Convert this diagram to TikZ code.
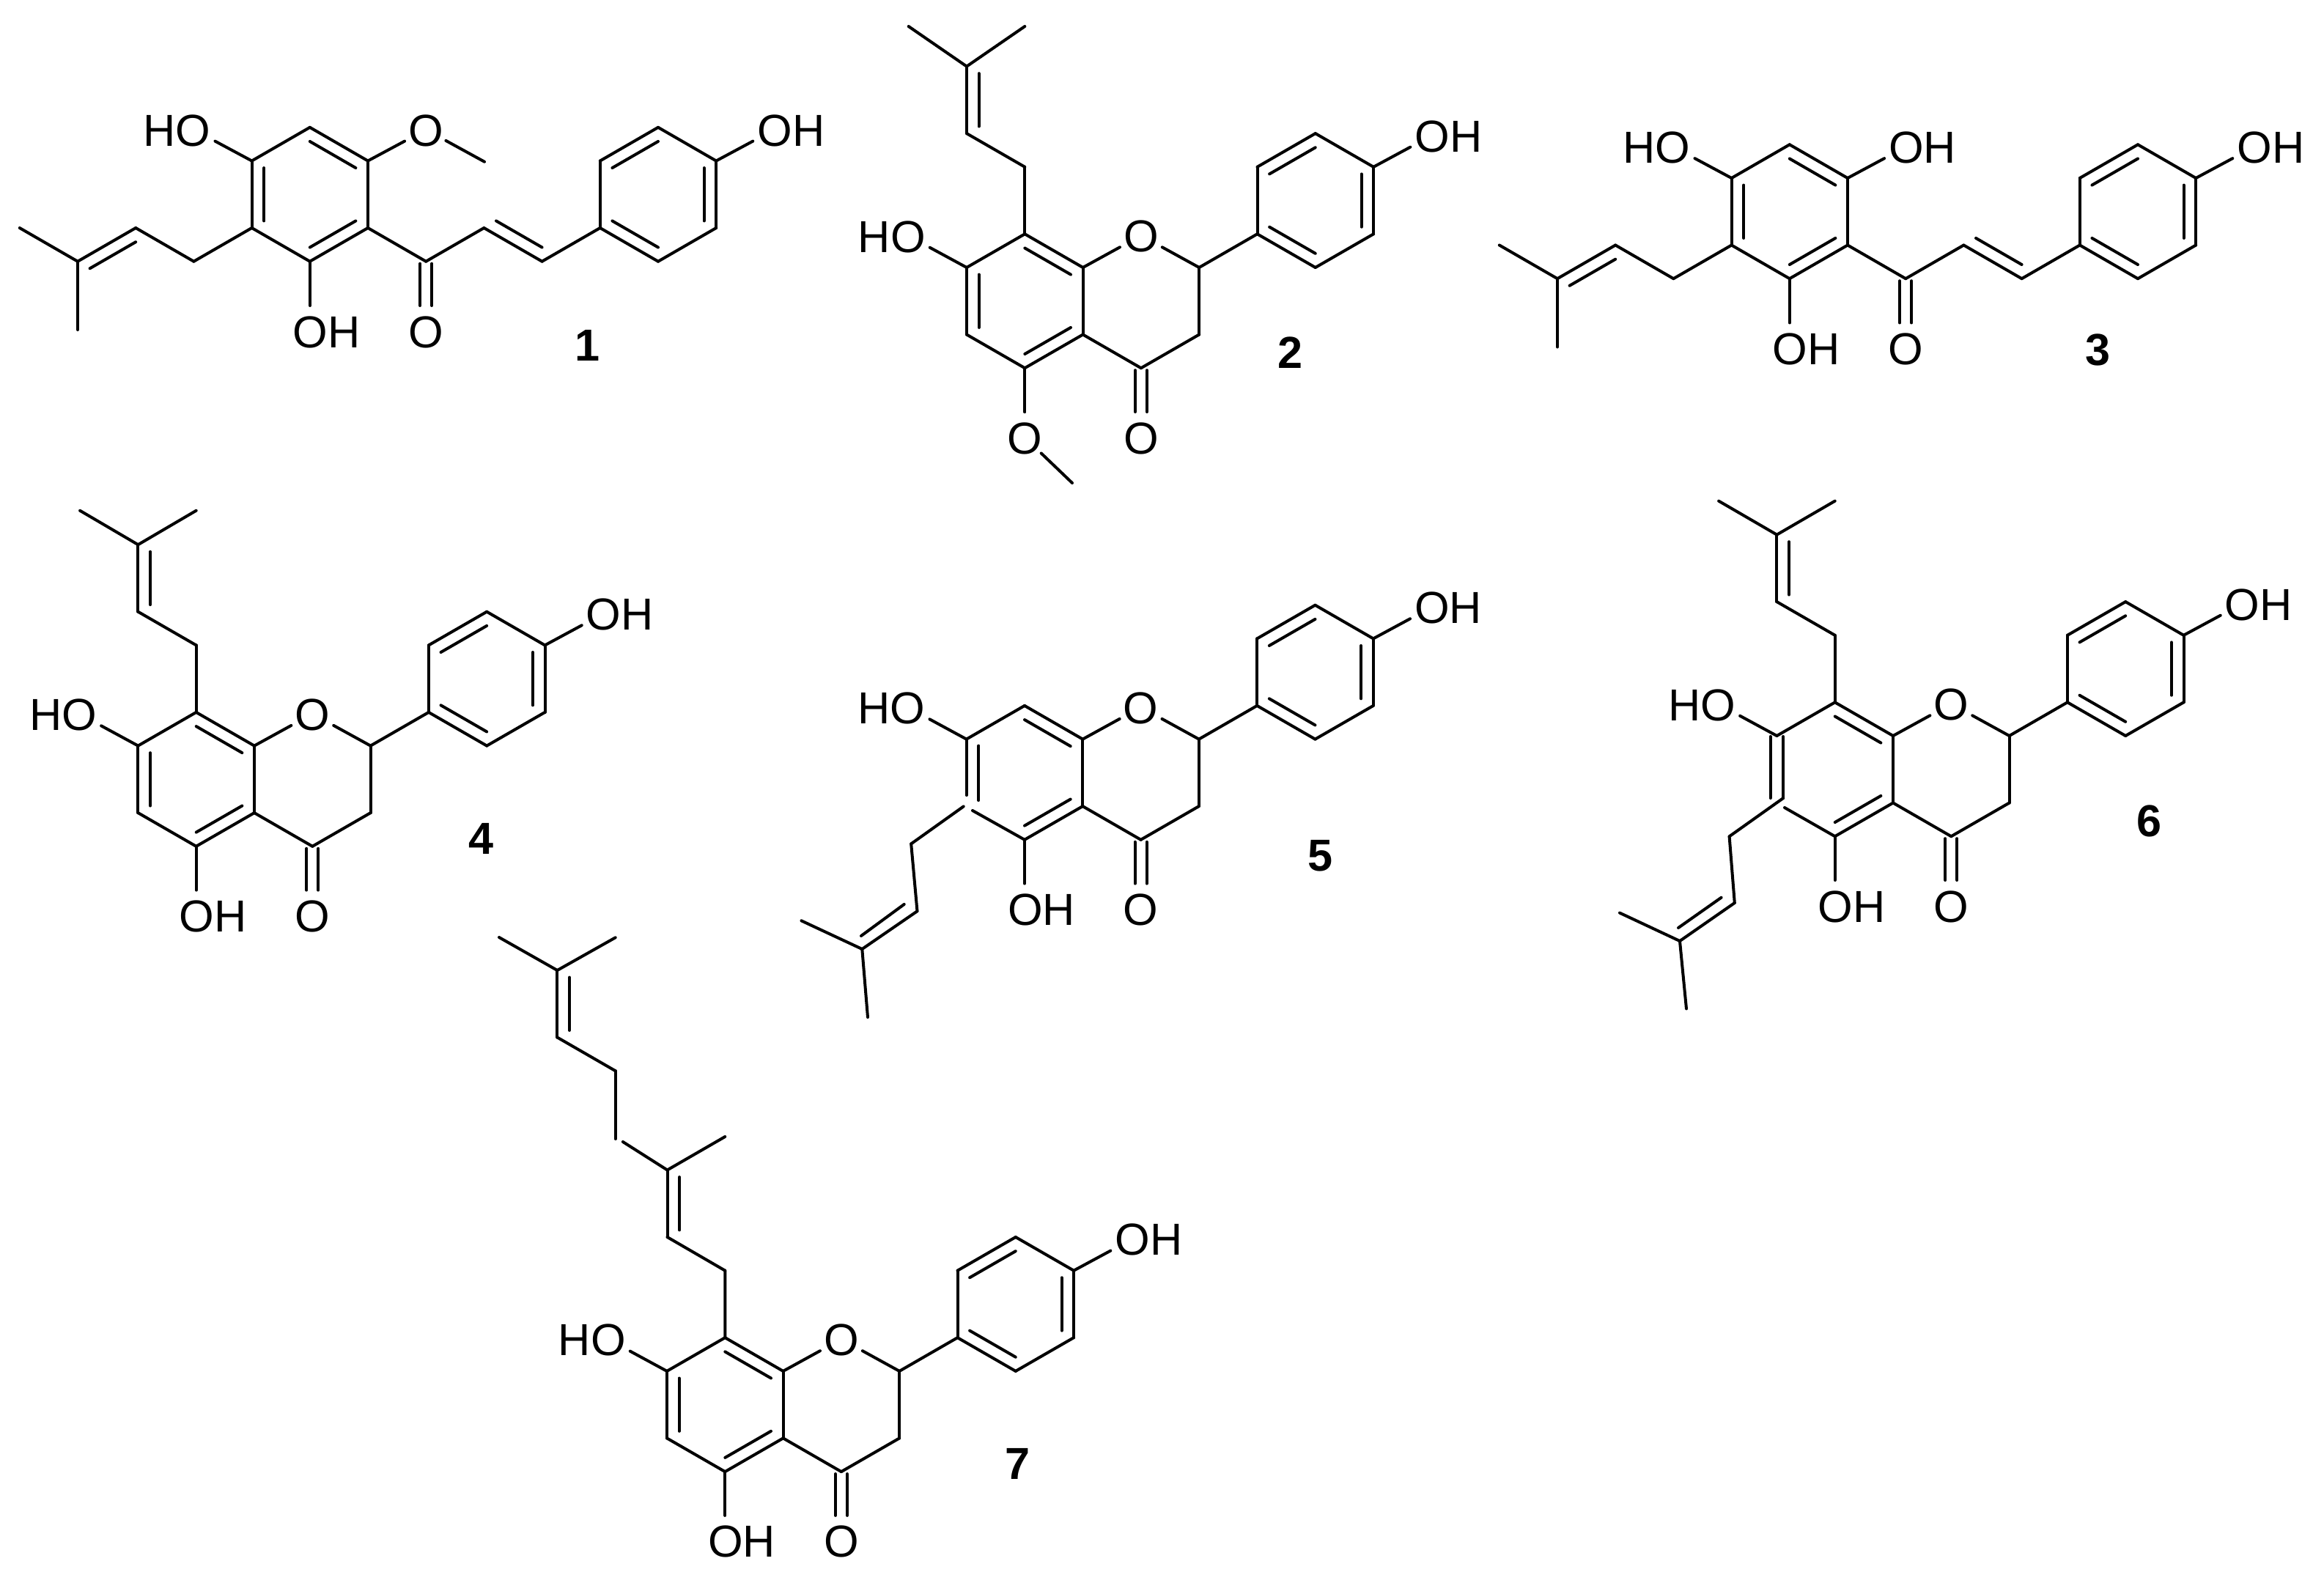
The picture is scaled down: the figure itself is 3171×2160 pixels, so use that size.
\documentclass[tikz,border=0pt]{standalone}
\usepackage{fontspec}
\setmainfont{Liberation Sans}
\usetikzlibrary{calc}
\newcommand\lab{\fontsize{17.4}{20}\selectfont}
\newcommand\numlab{\fontsize{17.4}{20}\selectfont\bfseries}
\tikzset{
  bnd/.style={line width=0.04cm,line cap=round,black},
  tolab/.style={bnd,shorten >=0.33cm},
  frlab/.style={bnd,shorten <=0.31cm},
  tolabv/.style={bnd,shorten >=0.35cm},
  txtO/.style={font=\lab,inner sep=0pt,anchor=base,yshift=-0.22cm},
  txtOH/.style={font=\lab,inner sep=0pt,anchor=base west,xshift=-0.237cm,yshift=-0.22cm},
  txtHO/.style={font=\lab,inner sep=0pt,anchor=base east,xshift=0.237cm,yshift=-0.22cm},
  txtNum/.style={font=\numlab,inner sep=0pt}
}
% inner line of a double bond, on the left of a->b as seen on the page
\newcommand\ib[2]{\draw[bnd] ($(#1)!0.105!(#2)!0.166cm!90:(#2)$) -- ($(#2)!0.105!(#1)!0.166cm!-90:(#1)$);}
% two-line carbonyl from an atom straight down to an O
\newcommand\carbonyl[2]{%
  \draw[bnd,shorten <=0.03cm,shorten >=0.35cm] ([xshift=-0.08cm]#1) -- ([xshift=-0.08cm]#2);
  \draw[bnd,shorten <=0.03cm,shorten >=0.35cm] ([xshift=0.08cm]#1) -- ([xshift=0.08cm]#2);}
% flavanone skeleton without C7-C6-C5 bonds
\newcommand\flavcore[3]{%
\begin{scope}[shift={(#2,#3)}]
  \coordinate (#1Ca) at (0,0);
  \coordinate (#1C8) at (-79.3,-45.7);
  \coordinate (#1C7) at (-158.6,0);
  \coordinate (#1C6) at (-158.6,91.5);
  \coordinate (#1C5) at (-79.3,137.2);
  \coordinate (#1Cb) at (0,91.5);
  \coordinate (#1O1) at (79.3,-43.6);
  \coordinate (#1C2) at (158.6,0);
  \coordinate (#1C3) at (158.6,91.5);
  \coordinate (#1C4) at (79.3,137.2);
  \coordinate (#1P1) at (237.9,-45.7);
  \coordinate (#1P2) at (237.9,-137.2);
  \coordinate (#1P3) at (317.2,-182.9);
  \coordinate (#1P4) at (396.5,-137.2);
  \coordinate (#1P5) at (396.5,-45.7);
  \coordinate (#1P6) at (317.2,0);
  \coordinate (#1OP) at (475.8,-180);
  \coordinate (#1O7) at (-237.9,-43);
  \coordinate (#1O5) at (-79.3,232);
  \coordinate (#1O4) at (79.3,232);
\end{scope}
  \draw[bnd] (#1C7) -- (#1C8);
  \draw[bnd] (#1C8) -- (#1Ca);
  \draw[bnd] (#1Ca) -- (#1Cb);
  \draw[bnd] (#1Cb) -- (#1C5);
  \draw[bnd] (#1Cb) -- (#1C4);
  \draw[bnd] (#1C4) -- (#1C3);
  \draw[bnd] (#1C3) -- (#1C2);
  \draw[bnd] (#1C2) -- (#1P1);
  \draw[bnd] (#1P1) -- (#1P2);
  \draw[bnd] (#1P2) -- (#1P3);
  \draw[bnd] (#1P3) -- (#1P4);
  \draw[bnd] (#1P4) -- (#1P5);
  \draw[bnd] (#1P5) -- (#1P6);
  \draw[bnd] (#1P6) -- (#1P1);
  \ib{#1Ca}{#1C8}
  \ib{#1C5}{#1Cb}
  \ib{#1P3}{#1P2}
  \ib{#1P1}{#1P6}
  \ib{#1P5}{#1P4}
  \draw[tolab] (#1Ca) -- (#1O1);
  \draw[tolab] (#1C2) -- (#1O1);
  \draw[tolab] (#1C7) -- (#1O7);
  \draw[tolab] (#1P4) -- (#1OP);
  \draw[tolabv] (#1C5) -- (#1O5);
  \carbonyl{#1C4}{#1O4}
  \node[txtO] (#1tO1) at (#1O1) {O};
  \node[txtHO] (#1tO7) at (#1O7) {HO};
  \node[txtOH] (#1tOP) at (#1OP) {OH};
  \node[txtO] (#1tO4) at (#1O4) {O};
}
% plain aromatic C7=C6-C5 part
\newcommand\ringplain[1]{%
  \draw[bnd] (#1C7) -- (#1C6);
  \draw[bnd] (#1C6) -- (#1C5);
  \ib{#1C7}{#1C6}
}
% prenyl standing on C8; #2 = rise of the two methyl ends
\newcommand\prenyltop[2]{%
  \path (#1C8) ++(0,-91.5) coordinate (#1H2)
        ++(-79.3,-45.7) coordinate (#1H1)
        ++(0,-91.5) coordinate (#1Hq)
        ++(-79.3,-#2) coordinate (#1Ha)
        ++(158.6,0) coordinate (#1Hb);
  \draw[bnd] (#1C8) -- (#1H2);
  \draw[bnd] (#1H2) -- (#1H1);
  \draw[bnd] (#1H1) -- (#1Hq);
  \draw[bnd] (#1Hq) -- (#1Ha);
  \draw[bnd] (#1Hq) -- (#1Hb);
  \ib{#1Hq}{#1H1}
}
% chalcone skeleton
\newcommand\chalcone[3]{%
\begin{scope}[shift={(#2,#3)}]
  \coordinate (#1At) at (-79.2,-137.2);
  \coordinate (#1Au) at (-158.4,-91.5);
  \coordinate (#1Ar) at (0,-91.5);
  \coordinate (#1Al) at (-158.4,0);
  \coordinate (#1Ao) at (0,0);
  \coordinate (#1Ab) at (-79.2,45.7);
  \coordinate (#1H2) at (-237.6,45.7);
  \coordinate (#1H1) at (-316.8,0);
  \coordinate (#1Hq) at (-396,45.7);
  \coordinate (#1Ha) at (-475.2,0);
  \coordinate (#1Hb) at (-396,139);
  \coordinate (#1CO) at (79.2,45.7);
  \coordinate (#1Ox) at (79.2,141);
  \coordinate (#1Cx) at (158.4,0);
  \coordinate (#1Cy) at (237.6,45.7);
  \coordinate (#1B1) at (316.8,0);
  \coordinate (#1B2) at (316.8,-91.5);
  \coordinate (#1B3) at (396,-137.2);
  \coordinate (#1B4) at (475.2,-91.5);
  \coordinate (#1B5) at (475.2,0);
  \coordinate (#1B6) at (396,45.7);
  \coordinate (#1Ol) at (-237.6,-134);
  \coordinate (#1Ob) at (-79.2,141);
  \coordinate (#1OB) at (554.4,-134);
  \coordinate (#1Oq) at (79.2,-134);
\end{scope}
  \draw[bnd] (#1At) -- (#1Au);
  \draw[bnd] (#1Au) -- (#1Al);
  \draw[bnd] (#1Al) -- (#1Ab);
  \draw[bnd] (#1Ab) -- (#1Ao);
  \draw[bnd] (#1Ao) -- (#1Ar);
  \draw[bnd] (#1Ar) -- (#1At);
  \ib{#1Au}{#1Al}
  \ib{#1Ab}{#1Ao}
  \ib{#1Ar}{#1At}
  \draw[bnd] (#1Al) -- (#1H2);
  \draw[bnd] (#1H2) -- (#1H1);
  \draw[bnd] (#1H1) -- (#1Hq);
  \draw[bnd] (#1Hq) -- (#1Ha);
  \draw[bnd] (#1Hq) -- (#1Hb);
  \ib{#1H1}{#1Hq}
  \draw[bnd] (#1Ao) -- (#1CO);
  \draw[bnd] (#1CO) -- (#1Cx);
  \draw[bnd] (#1Cx) -- (#1Cy);
  \draw[bnd] (#1Cy) -- (#1B1);
  \ib{#1Cx}{#1Cy}
  \draw[bnd] (#1B1) -- (#1B2);
  \draw[bnd] (#1B2) -- (#1B3);
  \draw[bnd] (#1B3) -- (#1B4);
  \draw[bnd] (#1B4) -- (#1B5);
  \draw[bnd] (#1B5) -- (#1B6);
  \draw[bnd] (#1B6) -- (#1B1);
  \ib{#1B3}{#1B2}
  \ib{#1B1}{#1B6}
  \ib{#1B5}{#1B4}
  \carbonyl{#1CO}{#1Ox}
  \draw[tolab] (#1Au) -- (#1Ol);
  \draw[tolab] (#1Ar) -- (#1Oq);
  \draw[tolab] (#1B4) -- (#1OB);
  \draw[tolabv] (#1Ab) -- (#1Ob);
  \node[txtHO] (#1tOl) at (#1Ol) {HO};
  \node[txtOH] (#1tOb) at (#1Ob) {OH};
  \node[txtO] (#1tOx) at (#1Ox) {O};
  \node[txtOH] (#1tOB) at (#1OB) {OH};
}
\begin{document}
\begin{tikzpicture}[x=0.01cm,y=-0.01cm]
\useasboundingbox (0,0) rectangle (3171,2160);

% --- 1 ---
\chalcone{a}{502}{311}
\node[txtO] (atOq) at (aOq) {O};
\coordinate (aMe) at (661,220.7);
\draw[frlab] (aOq) -- (aMe);
\node[txtNum] (n1) at (802,471) {1};

% --- 2 ---
\flavcore{b}{1477.6}{365}
\ringplain{b}
\prenyltop{b}{54.6}
\draw[tolabv] (bC5) -- (bO5);
\node[txtO] (btO5) at (bO5) {O};
\coordinate (bMe) at (1463,659);
\draw[frlab] (bO5) -- (bMe);
\node[txtNum] (n2) at (1761,481) {2};

% --- 3 ---
\chalcone{c}{2521}{334.5}
\node[txtOH] (ctOq) at (cOq) {OH};
\node[txtNum] (n3) at (2862.6,477) {3};

% --- 4 ---
\flavcore{d}{347}{1017.6}
\ringplain{d}
\prenyltop{d}{46.5}
\node[txtOH] (dtO5) at (dO5) {OH};
\node[txtNum] (n4) at (657,1144.5) {4};

% --- 5 ---
\flavcore{e}{1477.3}{1008.6}
\node[txtOH] (etO5) at (eO5) {OH};
\coordinate (eA) at (1318.7,1085);
\coordinate (eB) at (1327,1106);
\coordinate (eC) at (1314.7,1100.4);
\coordinate (eI) at (1335.3,1017.6);
\coordinate (eJ) at (1335.3,1092);
\coordinate (eD) at (1243.2,1151.4);
\coordinate (eE) at (1251.5,1243.3);
\coordinate (eF) at (1176.3,1295);
\coordinate (eG) at (1093.4,1256.3);
\coordinate (eK) at (1184,1388);
\coordinate (eL) at (1233.7,1233.9);
\coordinate (eM) at (1175,1277);
\draw[bnd] (eC7) -- (eA);
\draw[bnd] (eI) -- (eJ);
\draw[bnd] (eB) -- (eC5);
\draw[bnd] (eC) -- (eD);
\draw[bnd] (eD) -- (eE);
\draw[bnd] (eE) -- (eF);
\draw[bnd] (eF) -- (eG);
\draw[bnd] (eF) -- (eK);
\draw[bnd] (eL) -- (eM);
\node[txtNum] (n5) at (1801.3,1168) {5};

% --- 6 ---
\flavcore{f}{2583}{1004}
\prenyltop{f}{46}
\node[txtOH] (ftO5) at (fO5) {OH};
\coordinate (fU) at (2415.6,1005);
\coordinate (fV) at (2433.2,1005);
\coordinate (fX) at (2415.6,1089);
\coordinate (fY) at (2433.2,1089);
\coordinate (fB) at (2435,1102);
\coordinate (fD) at (2359.6,1141.3);
\coordinate (fE) at (2366.8,1232);
\coordinate (fF) at (2292,1284);
\coordinate (fG) at (2210,1245.6);
\coordinate (fK) at (2301,1376.4);
\coordinate (fL) at (2348.6,1224.7);
\coordinate (fM) at (2290,1266);
\draw[bnd] (fU) -- (fX);
\draw[bnd] (fV) -- (fY);
\draw[bnd] (fB) -- (fC5);
\draw[bnd] (fY) -- (fD);
\draw[bnd] (fD) -- (fE);
\draw[bnd] (fE) -- (fF);
\draw[bnd] (fF) -- (fG);
\draw[bnd] (fF) -- (fK);
\draw[bnd] (fL) -- (fM);
\node[txtNum] (n6) at (2932.6,1120.5) {6};

% --- 7 ---
\flavcore{g}{1068.6}{1870.9}
\ringplain{g}
\node[txtOH] (gtO5) at (gO5) {OH};
\coordinate (gH2) at (989.3,1733.7);
\coordinate (gH1) at (910.5,1688);
\coordinate (gHq) at (910.5,1596.5);
\coordinate (gHb) at (989.3,1551);
\coordinate (gGa) at (849.9,1558);
\coordinate (gGb) at (839.7,1554);
\coordinate (gGc) at (839.7,1461.2);
\coordinate (gGd) at (760.4,1415.5);
\coordinate (gGe) at (760.4,1324);
\coordinate (gGf) at (839.7,1279.3);
\coordinate (gGg) at (681,1279);
\draw[bnd] (gC8) -- (gH2);
\draw[bnd] (gH2) -- (gH1);
\draw[bnd] (gH1) -- (gHq);
\draw[bnd] (gHq) -- (gHb);
\draw[bnd] (gHq) -- (gGa);
\draw[bnd] (gGb) -- (gGc);
\draw[bnd] (gGc) -- (gGd);
\draw[bnd] (gGd) -- (gGe);
\draw[bnd] (gGe) -- (gGf);
\draw[bnd] (gGe) -- (gGg);
\ib{gHq}{gH1}
\ib{gGe}{gGd}
\node[txtNum] (n7) at (1388.8,1997) {7};
\end{tikzpicture}
\end{document}
